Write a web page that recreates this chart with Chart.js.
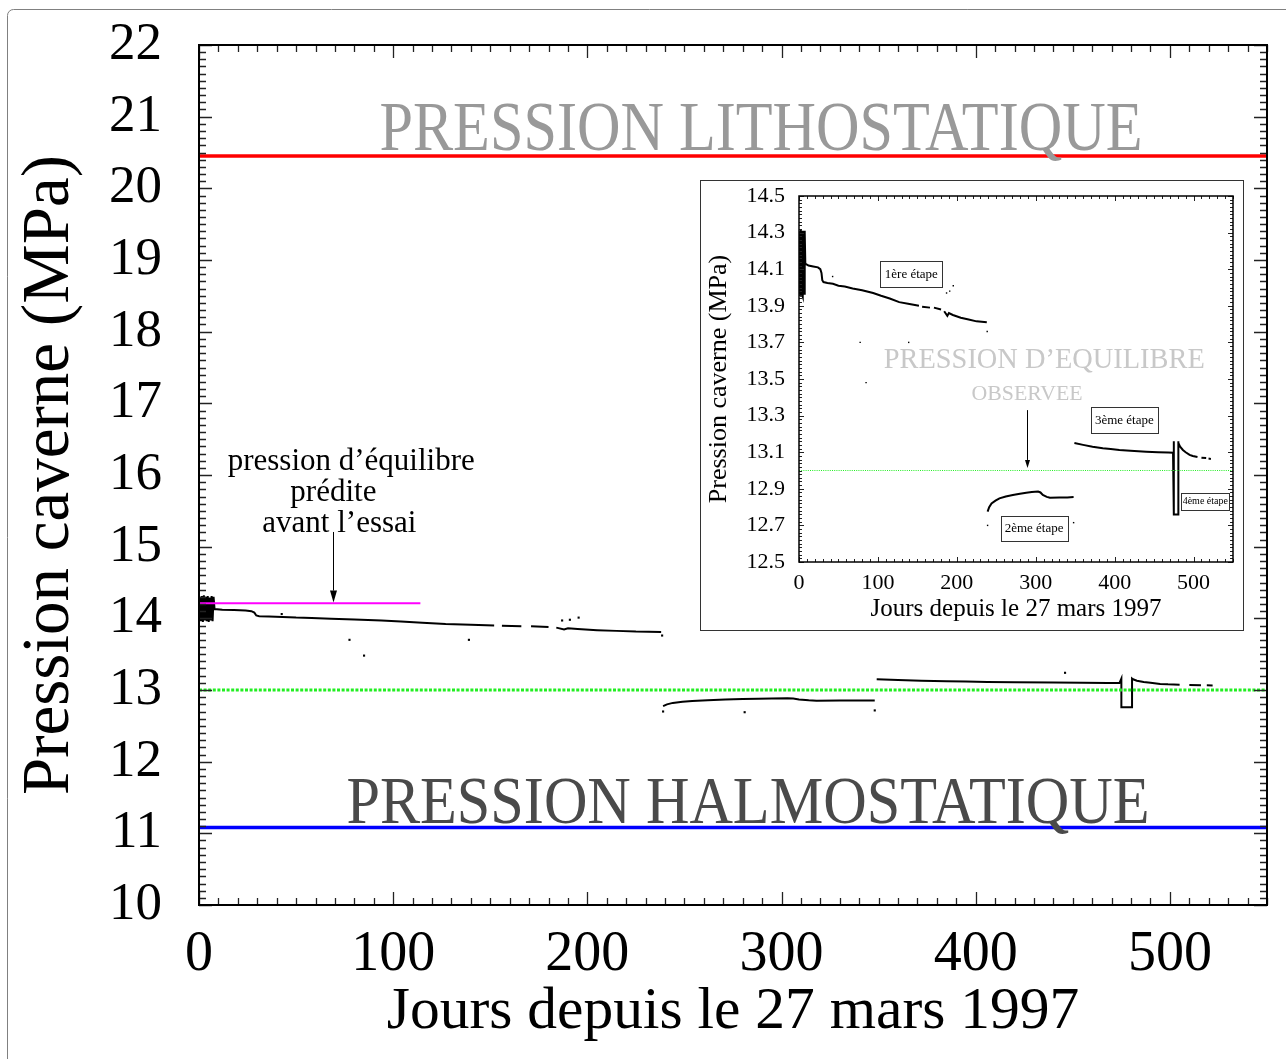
<!DOCTYPE html>
<html lang="fr">
<head>
<meta charset="utf-8">
<title>Pression caverne</title>
<script src="https://cdn.jsdelivr.net/npm/chart.js@4.4.1/dist/chart.umd.min.js"></script>
<style>
  html, body { margin: 0; padding: 0; background: #fff; }
  #page { position: relative; width: 1286px; height: 1059px; overflow: hidden; }
  #principal { position: absolute; left: 0; top: 0; }
  #encart { position: absolute; left: 700px; top: 180px; }
</style>
</head>
<body>
<div id="page">
  <canvas id="principal" width="1286" height="1059"></canvas>
  <canvas id="encart" width="544" height="451"></canvas>
</div>
<script>
// temps en jours depuis le 27 mars 1997, pression caverne en MPa
// null = trou dans l'enregistrement
var jours = [
  0.5, 1, 1.5, 2, 2.5, 3, 3.5, 4, 4.5, 5, 5.5, 6, 6.5, 7, 7.5,
  8, 12, 18, 24, 27, 28.5, 29.5, 31, 36, 43, 50, 58, 68, 80, 94, 104, 115, 127, 140, 152,
  153, 156, 166, 168, 171, 180, 181, 184, 188, 190, 195, 205, 215, 225, 238,
  238.5,
  239, 241, 244, 249, 254, 262, 271, 280, 288, 295, 303, 306, 309, 314, 318, 330, 340, 348,
  348.5,
  349, 360, 372, 385, 395, 406, 420, 440, 455, 468, 474,
  475, 475, 480.5, 480.5,
  481, 483, 486.5, 490, 495, 499, 505, 507, 510, 516, 517, 519, 522
];
var pression = [
  14.30, 13.96, 14.31, 13.95, 14.32, 13.97, 14.30, 13.96, 14.31, 13.95, 14.29, 13.97, 14.31, 13.96, 14.30,
  14.13, 14.12, 14.115, 14.11, 14.10, 14.08, 14.04, 14.03, 14.025, 14.02, 14.01, 14.005, 13.995, 13.985, 13.97, 13.955, 13.94, 13.92, 13.91, 13.90,
  null, 13.895, 13.89, null, 13.89, 13.88, null, 13.87, 13.845, 13.86, 13.85, 13.835, 13.825, 13.815, 13.81,
  null,
  12.775, 12.80, 12.82, 12.835, 12.848, 12.858, 12.866, 12.873, 12.879, 12.882, 12.885, 12.88, 12.866, 12.856, 12.851, 12.853, 12.853, 12.855,
  null,
  13.15, 13.14, 13.13, 13.122, 13.117, 13.112, 13.108, 13.103, 13.10, 13.098, 13.097,
  13.16, 12.76, 12.76, 13.16,
  13.15, 13.13, 13.112, 13.10, 13.085, 13.079, 13.074, null, 13.07, 13.068, null, 13.065, 13.063
];
// mesures isolées
var joursIsoles = [42.6, 77.5, 85, 139, 187, 191, 195.5, 238.5, 239, 281, 348, 446];
var pressionIsolee = [14.06, 13.70, 13.48, 13.70, 13.97, 13.98, 14.01, 13.76, 12.70, 12.69, 12.715, 13.24];

// pressions de référence (MPa)
var pressionLitho = 20.45;
var pressionHalmo = 11.08;
var pressionObservee = 13.0;
var pressionPredite = 14.21;
var finPredite = 114;

// graduations
var ticksJours = [0, 100, 200, 300, 400, 500];
var ticksPression = [10, 11, 12, 13, 14, 15, 16, 17, 18, 19, 20, 21, 22];
var ticksEncart = [12.5, 12.7, 12.9, 13.1, 13.3, 13.5, 13.7, 13.9, 14.1, 14.3, 14.5];

var SERIF = '"Liberation Serif", "Times New Roman", serif';

var pointsMesures = jours.map(function (j, i) { return { x: j, y: pression[i] }; });
var pointsIsoles = joursIsoles.map(function (j, i) { return { x: j, y: pressionIsolee[i] }; });
function horizontale(valeur, debut, fin) {
  return [{ x: debut, y: valeur }, { x: fin, y: valeur }];
}
function fixerTicks(liste) {
  return function (scale) {
    scale.ticks = liste.map(function (v) { return { value: v }; });
  };
}
// taille fixe des axes, sans marge ajoutée pour les étiquettes qui débordent
function largeurFixe(w) {
  return function (s) { s.width = w; s.paddingTop = 0; s.paddingBottom = 0; };
}
function hauteurFixe(h) {
  return function (s) { s.height = h; s.paddingLeft = 0; s.paddingRight = 0; };
}

function dessinerNotes(chart, notes) {
  var ctx = chart.ctx, sx = chart.scales.x, sy = chart.scales.y;
  notes.forEach(function (n) {
    var px = sx.getPixelForValue(n.x);
    if (n.fleche) {
      var y1 = sy.getPixelForValue(n.y1), y2 = sy.getPixelForValue(n.y2);
      px = Math.round(px) + 0.5;
      ctx.strokeStyle = '#000';
      ctx.lineWidth = 1;
      ctx.beginPath();
      ctx.moveTo(px, y1);
      ctx.lineTo(px, y2 - n.pointe);
      ctx.stroke();
      ctx.fillStyle = '#000';
      ctx.beginPath();
      ctx.moveTo(px - n.demi, y2 - n.pointe);
      ctx.lineTo(px + n.demi, y2 - n.pointe);
      ctx.lineTo(px, y2);
      ctx.closePath();
      ctx.fill();
      return;
    }
    var py = sy.getPixelForValue(n.y);
    if (n.boite) {
      var bx = Math.round(px - n.boite[0] / 2) + 0.5, by = Math.round(py - n.boite[1] / 2) + 0.5;
      ctx.fillStyle = '#fff';
      ctx.fillRect(bx, by, n.boite[0], n.boite[1]);
      ctx.strokeStyle = '#333';
      ctx.lineWidth = 1;
      ctx.strokeRect(bx, by, n.boite[0], n.boite[1]);
    }
    ctx.font = n.taille + 'px ' + SERIF;
    ctx.textAlign = 'center';
    ctx.textBaseline = n.base || 'middle';
    ctx.fillStyle = n.couleur || '#000';
    if (n.largeur) ctx.fillText(n.texte, px, py, n.largeur);
    else ctx.fillText(n.texte, px, py);
  });
}

// cadre, graduations vers l'intérieur sur les quatre côtés, annotations
var cadre = {
  id: 'cadre',
  beforeDraw: function (chart, args, o) {
    var ctx = chart.ctx;
    ctx.save();
    ctx.fillStyle = '#fff';
    ctx.fillRect(0, 0, chart.width, chart.height);
    if (o.page) {
      ctx.strokeStyle = '#808080';
      ctx.lineWidth = 1;
      ctx.beginPath();
      ctx.moveTo(7.5, chart.height);
      ctx.lineTo(7.5, 16);
      ctx.arcTo(7.5, 9.5, 14, 9.5, 6);
      ctx.lineTo(chart.width, 9.5);
      ctx.stroke();
    }
    if (o.boite) {
      ctx.strokeStyle = '#333';
      ctx.lineWidth = 1;
      ctx.strokeRect(0.5, 0.5, chart.width - 1, chart.height - 1);
    }
    ctx.restore();
  },
  afterDraw: function (chart, args, o) {
    var ctx = chart.ctx, a = chart.chartArea;
    var sx = chart.scales.x, sy = chart.scales.y;
    ctx.save();
    ctx.strokeStyle = '#222';
    ctx.lineWidth = o.trait;
    ctx.beginPath();
    var n, i, v, p, L;
    n = Math.round((sx.max - sx.min) / o.pasX);
    for (i = 0; i <= n; i++) {
      v = sx.min + i * o.pasX;
      p = Math.round(sx.getPixelForValue(v)) + 0.5;
      L = (i % o.parX === 0) ? o.grand : o.petit;
      ctx.moveTo(p, a.bottom); ctx.lineTo(p, a.bottom - L);
      ctx.moveTo(p, a.top); ctx.lineTo(p, a.top + L);
    }
    n = Math.round((sy.max - sy.min) / o.pasY);
    for (i = 0; i <= n; i++) {
      v = sy.min + i * o.pasY;
      p = Math.round(sy.getPixelForValue(v)) + 0.5;
      L = (i % o.parY === 0) ? o.grand : o.petit;
      ctx.moveTo(a.left, p); ctx.lineTo(a.left + L, p);
      ctx.moveTo(a.right, p); ctx.lineTo(a.right - L, p);
    }
    ctx.stroke();
    ctx.strokeStyle = '#000';
    ctx.lineWidth = o.bord;
    ctx.strokeRect(a.left, a.top, a.right - a.left, a.bottom - a.top);
    dessinerNotes(chart, o.notes || []);
    ctx.restore();
  }
};

// graphique principal
new Chart(document.getElementById('principal'), {
  type: 'line',
  data: {
    datasets: [
      { label: 'pression prédite', data: horizontale(pressionPredite, 0, finPredite),
        borderColor: '#ff00ff', borderWidth: 2, pointRadius: 0 },
      { label: 'pression observée', data: horizontale(pressionObservee, 0, 550),
        borderColor: '#22ee22', borderWidth: 3, borderDash: [3, 1.6], pointRadius: 0 },
      { label: 'pression lithostatique', data: horizontale(pressionLitho, 0, 550),
        borderColor: '#ff0000', borderWidth: 3.5, pointRadius: 0 },
      { label: 'pression halmostatique', data: horizontale(pressionHalmo, 0, 550),
        borderColor: '#0000ff', borderWidth: 3.5, pointRadius: 0 },
      { label: 'mesures', data: pointsMesures, borderColor: '#000', borderWidth: 2,
        pointRadius: 0, spanGaps: false },
      { label: 'isolées', data: pointsIsoles, showLine: false, pointStyle: 'rect',
        pointRadius: 1.5, backgroundColor: '#000', borderWidth: 0 }
    ]
  },
  options: {
    responsive: false,
    animation: false,
    events: [],
    layout: { padding: { left: 0, top: 45, right: 19, bottom: 0 } },
    plugins: {
      legend: { display: false },
      tooltip: { enabled: false },
      cadre: {
        page: true, pasX: 10, parX: 10, pasY: 0.1, parY: 10, grand: 13, petit: 7, trait: 1.3, bord: 2,
        notes: [
          { texte: 'PRESSION LITHOSTATIQUE', x: 289.4, y: 20.535, taille: 70, couleur: '#999999', largeur: 763, base: 'alphabetic' },
          { texte: 'PRESSION HALMOSTATIQUE', x: 282.7, y: 11.144, taille: 68, couleur: '#4a4a4a', largeur: 803, base: 'alphabetic' },
          { texte: 'pression d’équilibre', x: 78.4, y: 16.18, taille: 31 },
          { texte: 'prédite', x: 69.2, y: 15.749, taille: 31 },
          { texte: 'avant l’essai', x: 72.3, y: 15.316, taille: 31 },
          { fleche: true, x: 68.9, y1: 15.205, y2: 14.22, pointe: 12, demi: 3.5 }
        ]
      }
    },
    scales: {
      x: {
        type: 'linear', min: 0, max: 550,
        afterBuildTicks: fixerTicks(ticksJours),
        afterFit: hauteurFixe(154),
        grid: { display: false, drawTicks: false },
        border: { display: false },
        ticks: { autoSkip: false, maxRotation: 0, padding: 17, color: '#000',
                 font: { family: SERIF, size: 56 } },
        title: { display: true, text: 'Jours depuis le 27 mars 1997', color: '#000',
                 font: { family: SERIF, size: 59.5, lineHeight: 1 }, padding: { top: 0, bottom: 17 } }
      },
      y: {
        type: 'linear', min: 10, max: 22,
        afterBuildTicks: fixerTicks(ticksPression),
        afterFit: largeurFixe(199),
        grid: { display: false, drawTicks: false },
        border: { display: false },
        ticks: { autoSkip: false, padding: 37, color: '#000',
                 font: { family: SERIF, size: 53 } },
        title: { display: true, text: 'Pression caverne (MPa)', color: '#000',
                 font: { family: SERIF, size: 67, lineHeight: 1 }, padding: { top: 17, bottom: 0 } }
      }
    }
  },
  plugins: [cadre]
});

// encart : zoom sur la plage 12.5 - 14.5 MPa
new Chart(document.getElementById('encart'), {
  type: 'line',
  data: {
    datasets: [
      { label: 'pression observée', data: horizontale(pressionObservee, 0, 550),
        borderColor: '#22ee22', borderWidth: 1, borderDash: [1, 1.2], pointRadius: 0 },
      { label: 'mesures', data: pointsMesures, borderColor: '#000', borderWidth: 2,
        pointRadius: 0, spanGaps: false },
      { label: 'isolées', data: pointsIsoles, showLine: false, pointStyle: 'rect',
        pointRadius: 1, backgroundColor: '#000', borderWidth: 0 }
    ]
  },
  options: {
    responsive: false,
    animation: false,
    events: [],
    layout: { padding: { left: 0, top: 16, right: 11, bottom: 0 } },
    plugins: {
      legend: { display: false },
      tooltip: { enabled: false },
      cadre: {
        boite: true, pasX: 10, parX: 10, pasY: 0.02, parY: 10, grand: 5, petit: 3, trait: 1, bord: 1.5,
        notes: [
          { texte: 'PRESSION D’EQUILIBRE', x: 310.8, y: 13.604, taille: 30, couleur: '#c8c8c8', largeur: 321 },
          { texte: 'OBSERVEE', x: 289, y: 13.418, taille: 22, couleur: '#c8c8c8', largeur: 111 },
          { fleche: true, x: 288.6, y1: 13.33, y2: 13.014, pointe: 8, demi: 2.5 },
          { texte: '1ère étape', x: 142.4, y: 14.072, taille: 13, boite: [62, 26] },
          { texte: '3ème étape', x: 412.3, y: 13.274, taille: 13, boite: [67, 26] },
          { texte: '2ème étape', x: 297.9, y: 12.685, taille: 13, boite: [67, 25] },
          { texte: '4ème étape', x: 514.9, y: 12.832, taille: 10, boite: [48, 17] }
        ]
      }
    },
    scales: {
      x: {
        type: 'linear', min: 0, max: 550,
        afterBuildTicks: fixerTicks(ticksJours),
        afterFit: hauteurFixe(69),
        grid: { display: false, drawTicks: false },
        border: { display: false },
        ticks: { autoSkip: false, maxRotation: 0, padding: 8, color: '#000',
                 font: { family: SERIF, size: 22 } },
        title: { display: true, text: 'Jours depuis le 27 mars 1997', color: '#000',
                 font: { family: SERIF, size: 25, lineHeight: 1 }, padding: { top: 0, bottom: 9 } }
      },
      y: {
        type: 'linear', min: 12.5, max: 14.5,
        afterBuildTicks: fixerTicks(ticksEncart),
        afterFit: largeurFixe(99),
        grid: { display: false, drawTicks: false },
        border: { display: false },
        ticks: { autoSkip: false, padding: 14, color: '#000',
                 font: { family: SERIF, size: 22 },
                 callback: function (v) { return v.toFixed(1); } },
        title: { display: true, text: 'Pression caverne (MPa)', color: '#000',
                 font: { family: SERIF, size: 26, lineHeight: 1 }, padding: { top: 6, bottom: 0 } }
      }
    }
  },
  plugins: [cadre]
});
</script>
</body>
</html>
